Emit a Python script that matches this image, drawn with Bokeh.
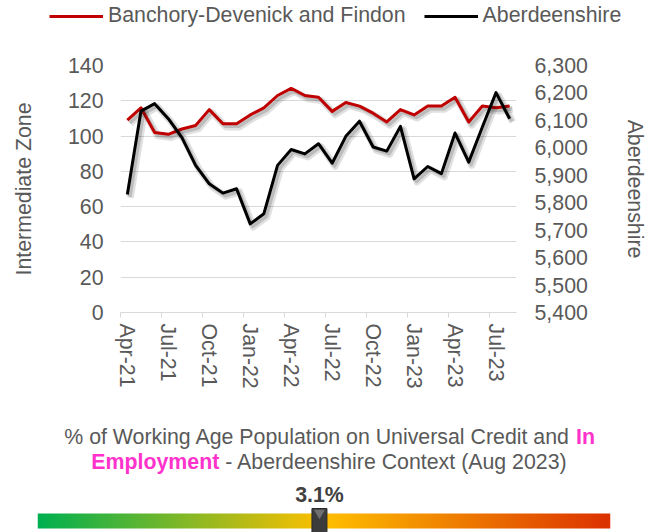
import numpy as np
from bokeh.plotting import figure
from bokeh.models import (Range1d, LinearAxis, FixedTicker, NumeralTickFormatter,
                          Legend, LegendItem, ColumnDataSource)
from bokeh.layouts import column
from bokeh.transform import dodge
from bokeh.core.properties import value
from bokeh.embed import file_html
from bokeh.resources import INLINE

# ---------------- data ----------------
months = ["Apr-21", "May-21", "Jun-21", "Jul-21", "Aug-21", "Sep-21", "Oct-21", "Nov-21",
          "Dec-21", "Jan-22", "Feb-22", "Mar-22", "Apr-22", "May-22", "Jun-22", "Jul-22",
          "Aug-22", "Sep-22", "Oct-22", "Nov-22", "Dec-22", "Jan-23", "Feb-23", "Mar-23",
          "Apr-23", "May-23", "Jun-23", "Jul-23", "Aug-23"]
banchory = [109, 116, 102, 101, 104, 106, 115, 107, 107, 112, 116, 123, 127, 123, 122,
            114, 119, 117, 113, 108, 115, 112, 117, 117, 122, 108, 117, 116, 117]
aberdeenshire = [5830, 6134, 6161, 6106, 6037, 5936, 5869, 5835, 5851, 5723, 5760, 5936,
                 5994, 5978, 6015, 5944, 6042, 6097, 6003, 5988, 6078, 5887, 5932, 5906,
                 6054, 5948, 6076, 6201, 6106]
left_ticks = [0, 20, 40, 60, 80, 100, 120, 140]
right_ticks = [5400, 5500, 5600, 5700, 5800, 5900, 6000, 6100, 6200, 6300]
label_every = 3

series_names = ["Banchory-Devenick and Findon", "Aberdeenshire"]
axis_titles = ["Intermediate Zone", "Aberdeenshire"]

context_line1 = ["% of Working Age Population on Universal Credit and", "In"]
context_line2 = ["Employment", "- Aberdeenshire Context (Aug 2023)"]
uc_value = 3.1
scale_min, scale_max = 0.0, 6.3
gradient_colors = ["#00b050", "#ffc000", "#dc3200"]

# ---------------- styles ----------------
FONT = "Liberation Sans"
FS = "16pt"
TXT = "#595959"
GRID = "#d9d9d9"
RED = "#c00000"
MAGENTA = "#ff33cc"
SPACE = 5.9  # width of a space at 16pt


def no_align(fig):
    if "frame_align" in fig.properties():
        fig.frame_align = False


# ---------------- legend strip ----------------
p0 = figure(width=649, height=28, output_backend="svg", toolbar_location=None,
            x_range=Range1d(0, 1), y_range=Range1d(0, 1),
            min_border_left=0, min_border_right=0, min_border_top=0, min_border_bottom=0,
            x_axis_location=None, y_axis_location=None, outline_line_color=None,
            background_fill_color="white", border_fill_color="white")
p0.grid.visible = False
# legend proxies (one off-range point each, so nothing is drawn in the strip itself)
proxy_red = p0.line(x=[0.5], y=[-5], line_color=RED, line_width=3)
proxy_blk = p0.line(x=[0.5], y=[-5], line_color="black", line_width=3)
legend = Legend(items=[LegendItem(label=series_names[0], renderers=[proxy_red]),
                       LegendItem(label=series_names[1], renderers=[proxy_blk])],
                location=(49, 0), orientation="horizontal",
                padding=0, margin=0, spacing=18, glyph_width=54, label_standoff=5,
                background_fill_alpha=0, border_line_alpha=0,
                label_text_font=FONT, label_text_font_size=FS, label_text_color=TXT)
p0.add_layout(legend)

# ---------------- main chart ----------------
src = ColumnDataSource(dict(x=list(range(len(months))), iz=banchory, ab=aberdeenshire))

p = figure(width=649, height=372, output_backend="svg", toolbar_location=None,
           x_range=Range1d(-0.5, len(months) - 0.5),
           y_range=Range1d(left_ticks[0], left_ticks[-1]),
           min_border_left=120, min_border_right=129, min_border_top=37, min_border_bottom=88,
           background_fill_color="white", border_fill_color="white", outline_line_color=None)
p.extra_y_ranges = {"abdn": Range1d(right_ticks[0], right_ticks[-1])}

# shadows + lines
p.line(x=dodge("x", 0.22), y=dodge("iz", -1.8), source=src, line_color="black",
       line_alpha=0.12, line_width=7, line_join="round")
p.line(x=dodge("x", 0.18), y=dodge("iz", -1.5), source=src, line_color="black",
       line_alpha=0.16, line_width=3.5, line_join="round")
p.line(x="x", y="iz", source=src, line_color=RED, line_width=3, line_join="round")
p.line(x=dodge("x", 0.22), y=dodge("ab", -11.5), source=src, line_color="black",
       line_alpha=0.12, line_width=7, line_join="round", y_range_name="abdn")
p.line(x=dodge("x", 0.18), y=dodge("ab", -9.5), source=src, line_color="black",
       line_alpha=0.16, line_width=3.5, line_join="round", y_range_name="abdn")
p.line(x="x", y="ab", source=src, line_color="black", line_width=3,
       line_join="round", y_range_name="abdn")

# grid
p.xgrid.visible = False
p.ygrid.ticker = FixedTicker(ticks=left_ticks)
p.ygrid.grid_line_color = GRID

# x axis
xa = p.xaxis[0]
tick_idx = list(range(0, len(months), label_every))
xa.ticker = FixedTicker(ticks=tick_idx, minor_ticks=[i - 0.5 for i in tick_idx])
xa.major_label_overrides = {i: months[i] for i in tick_idx}
xa.major_label_orientation = "vertical"
xa.major_tick_line_color = None
xa.major_tick_out = 0
xa.major_tick_in = 0
xa.minor_tick_out = 5
xa.minor_tick_in = 0
xa.minor_tick_line_color = GRID
xa.axis_line_color = GRID
xa.major_label_standoff = 6
xa.major_label_text_font = FONT
xa.major_label_text_font_size = FS
xa.major_label_text_color = TXT

# left axis
ya = p.yaxis[0]
ya.ticker = FixedTicker(ticks=left_ticks)
ya.axis_line_color = None
ya.major_tick_line_color = None
ya.minor_tick_line_color = None
ya.major_tick_out = 0
ya.major_tick_in = 0
ya.major_label_standoff = 17
ya.major_label_text_font = FONT
ya.major_label_text_font_size = FS
ya.major_label_text_color = TXT
ya.axis_label = axis_titles[0]
ya.axis_label_standoff = 29
ya.axis_label_text_font = FONT
ya.axis_label_text_font_size = FS
ya.axis_label_text_font_style = "normal"
ya.axis_label_text_color = TXT

# right axis
ra = LinearAxis(y_range_name="abdn", ticker=FixedTicker(ticks=right_ticks),
                formatter=NumeralTickFormatter(format="0,0"))
ra.axis_line_color = None
ra.major_tick_line_color = None
ra.minor_tick_line_color = None
ra.major_tick_out = 0
ra.major_tick_in = 0
ra.major_label_standoff = 18
ra.major_label_text_font = FONT
ra.major_label_text_font_size = FS
ra.major_label_text_color = TXT
ra.axis_label = axis_titles[1]
ra.axis_label_standoff = 32
ra.axis_label_text_font = FONT
ra.axis_label_text_font_size = FS
ra.axis_label_text_font_style = "normal"
ra.axis_label_text_color = TXT
p.add_layout(ra, "right")

# ---------------- context bar ----------------
p2 = figure(width=649, height=132, output_backend="svg", toolbar_location=None,
            x_range=Range1d(scale_min, scale_max), y_range=Range1d(0, 132),
            min_border_left=37, min_border_right=39, min_border_top=0, min_border_bottom=0,
            x_axis_location=None, y_axis_location=None, outline_line_color=None,
            background_fill_color="white", border_fill_color="white")
p2.grid.visible = False
for fig in (p0, p, p2):
    no_align(fig)

mid = (scale_min + scale_max) / 2
common = dict(text_font=value(FONT), text_font_size=value(FS), text_baseline="alphabetic")
p2.text(x=[mid], y=[96], text=[context_line1[0]], x_offset=252 - SPACE, text_align="right",
        text_color=TXT, **common)
p2.text(x=[mid], y=[96], text=[context_line1[1]], x_offset=252, text_align="left",
        text_color=MAGENTA, text_font_style="bold", **common)
p2.text(x=[mid], y=[71], text=[context_line2[0]], x_offset=-104.7, text_align="right",
        text_color=MAGENTA, text_font_style="bold", **common)
p2.text(x=[mid], y=[71], text=[context_line2[1]], x_offset=-104.7 + SPACE, text_align="left",
        text_color=TXT, **common)

# gradient
N = 300
pos = np.linspace(0, 1, len(gradient_colors))
rgb = np.array([[int(c[i:i + 2], 16) for i in (1, 3, 5)] for c in gradient_colors])
t = np.linspace(0, 1, N)
img = np.empty((1, N), dtype=np.uint32)
view = img.view(dtype=np.uint8).reshape((1, N, 4))
for k in range(3):
    view[0, :, k] = np.interp(t, pos, rgb[:, k]).astype(np.uint8)
view[0, :, 3] = 255
p2.image_rgba(image=[img], x=scale_min, y=4, dw=scale_max - scale_min, dh=15)

# marker + value
p2.rect(x=[uc_value], y=[12], width=15, width_units="screen", height=24,
        fill_color="#3c3c3c", line_color="#2b2b2b", line_width=1)
p2.scatter(x=[uc_value], y=[19.5], marker="inverted_triangle", size=11,
           fill_color="#707070", line_color=None)
p2.text(x=[uc_value], y=[38], text=[f"{uc_value}%"], text_align="center",
        text_color="#404040", text_font_style="bold", **common)

layout = column(p0, p, p2)
open("out.html", "w").write(file_html(layout, INLINE))
